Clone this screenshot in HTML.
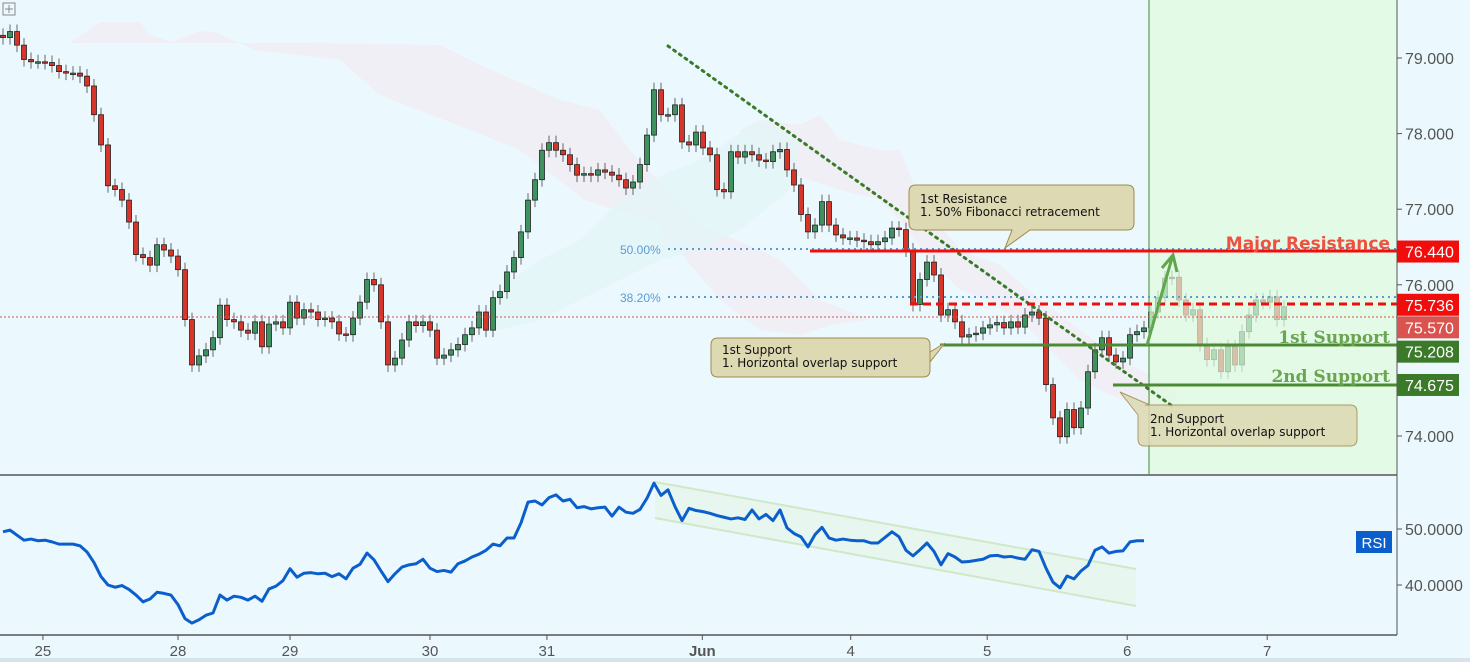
<!DOCTYPE html>
<html><head><meta charset="utf-8"><style>
body{margin:0;background:#ebf9fe;font-family:"Liberation Sans",sans-serif}
svg{display:block}
</style></head><body>
<svg id="c" width="1470" height="662" xmlns="http://www.w3.org/2000/svg">
<rect x="0" y="0" width="1470" height="662" fill="#ebf9fe"/>
<g id="cloud">
<polygon points="70,43 100,22 140,22 150,35 172,42 200,31 215,32 255,50 340,60 380,95 470,130 520,150 585,200 655,222 720,300 760,330 800,335 830,325 870,320 820,300 780,260 760,250 700,225 680,205 630,150 600,110 560,100 530,87 480,65 440,45 300,43 200,43 150,43 100,43" fill="#efedf4" opacity="0.9"/>
<polygon points="740,130 760,120 800,125 820,115 840,140 880,150 900,150 920,200 960,250 1000,265 1040,300 1080,330 1120,360 1160,380 1180,400 1150,410 1110,395 1080,380 1060,360 1030,330 990,300 960,290 930,260 900,220 880,200 840,190 810,180 780,170" fill="#efedf4" opacity="0.9"/>
<polygon points="480,320 510,280 540,260 580,240 620,200 650,180 700,160 760,120 800,140 790,190 740,230 700,250 660,260 620,280 580,300 540,320 500,330" fill="#e3f5f8" opacity="0.8"/>
</g>
<g id="candles"></g>
<rect x="1149" y="0" width="248" height="474" fill="#dffbdd" opacity="0.7"/>
<line x1="1149" y1="0" x2="1149" y2="474" stroke="#3c8a2e" stroke-width="1"/>
<g id="ann"></g>
<g id="rsi"></g>
<g id="axes"></g>
</svg>
<script>
const closes=[79.27,79.35,79.17,78.98,78.95,78.95,78.94,78.90,78.82,78.80,78.80,78.76,78.63,78.25,77.85,77.31,77.26,77.12,76.83,76.40,76.36,76.26,76.53,76.46,76.38,76.20,75.54,74.94,75.06,75.14,75.30,75.73,75.54,75.51,75.40,75.36,75.51,75.18,75.48,75.51,75.43,75.77,75.56,75.67,75.64,75.54,75.56,75.51,75.35,75.34,75.56,75.77,76.07,76.00,75.51,74.94,75.03,75.27,75.51,75.46,75.51,75.40,75.03,75.07,75.14,75.21,75.34,75.43,75.64,75.40,75.83,75.91,76.17,76.36,76.70,77.12,77.39,77.78,77.88,77.78,77.72,77.59,77.45,77.47,77.45,77.52,77.49,77.45,77.39,77.28,77.36,77.59,77.98,78.58,78.25,78.25,78.38,77.89,77.85,78.02,77.81,77.72,77.26,77.23,77.76,77.69,77.76,77.72,77.65,77.63,77.76,77.79,77.52,77.32,76.93,76.70,76.79,77.10,76.79,76.66,76.62,76.62,76.59,76.57,76.53,76.57,76.62,76.75,76.73,76.46,75.74,76.07,76.30,76.13,75.60,75.67,75.51,75.31,75.34,75.36,75.43,75.47,75.50,75.43,75.51,75.44,75.60,75.64,75.56,74.68,74.24,73.99,74.35,74.11,74.37,74.85,75.14,75.30,75.07,74.98,75.03,75.34,75.38,75.43,75.64,75.83,76.09,76.10,75.80,75.60,75.67,75.21,75.01,75.14,74.85,75.18,74.94,75.38,75.60,75.80,75.77,75.84,75.54,75.71];
const rsiValues=[49.5,49.8,48.9,48.0,48.2,47.9,48.0,47.7,47.3,47.3,47.3,47.0,45.9,44.0,41.5,40.0,39.6,39.9,39.2,38.2,37.0,37.5,38.7,38.5,38.2,36.5,34.0,33.2,33.8,34.6,35.0,38.2,37.3,38.0,37.8,37.3,38.0,37.1,39.3,39.8,40.8,42.9,41.4,42.1,42.2,42.0,42.1,41.5,42.0,41.1,43.0,43.7,45.7,44.5,42.5,40.6,42.0,43.2,43.6,43.8,44.6,43.0,42.4,42.6,42.3,43.8,44.3,45.0,45.5,46.2,47.3,47.0,48.4,48.4,51.1,54.8,55.0,54.3,55.6,56.1,55.0,55.3,53.8,54.0,53.6,53.8,53.9,52.3,53.9,53.0,52.8,53.5,55.5,58.2,56.0,57.0,54.0,51.5,53.7,53.3,53.1,52.8,52.4,52.1,51.8,52.0,51.7,53.4,51.8,52.6,51.5,53.4,50.2,49.2,48.6,46.8,49.0,50.3,48.4,48.0,48.2,48.0,47.9,47.9,47.5,47.5,48.5,49.5,48.6,46.2,45.2,46.3,47.5,46.0,43.6,45.6,45.0,44.1,44.2,44.4,44.6,45.2,45.3,45.0,45.1,44.8,44.6,46.3,46.0,43.0,40.5,39.5,41.6,41.1,42.5,43.5,46.2,46.8,45.7,46.0,46.1,47.7,47.9,47.9];
const priceTicks=[79,78,77,76,74];
const rsiTicks=[50,40];
const dateLabels=["25","28","29","30","31","Jun","4","5","6","7"];
const dateIdx=[5.7,25,41,61,77.7,99.9,121.1,140.6,160.6,180.6];
const levels=[{v:76.44,label:"76.440",col:"#f20d0d"},{v:75.736,label:"75.736",col:"#f20d0d"},{v:75.57,label:"75.570",col:"#d9534f"},{v:75.208,label:"75.208",col:"#3b7a28"},{v:74.675,label:"74.675",col:"#3b7a28"}];
const tagShift=[0,0,10,7,0];
const X=i=>3+7*i, Y=p=>58+(79-p)*75.6, RY=v=>529-(v-50)*5.6;
const NS="http://www.w3.org/2000/svg";
function mk(t,a,p){const e=document.createElementNS(NS,t);for(const k in a)e.setAttribute(k,a[k]);p.appendChild(e);return e;}
const cg=document.getElementById('candles');
closes.forEach((c,i)=>{const o=i?closes[i-1]:c+0.03;const up=c>=o;const x=X(i);
 const top=Y(Math.max(o,c)),bot=Y(Math.min(o,c));
 const w=mk('line',{x1:x,x2:x,y1:top-7,y2:bot+7,stroke:'#666','stroke-width':1},cg);
 
 const r=mk('rect',{x:x-2.5,y:top,width:5,height:Math.max(1.5,bot-top),fill:up?'#3f9160':'#d8352a',stroke:'#222','stroke-width':0.8},cg);
 });
const an=document.getElementById('ann');
an.innerHTML=`
<line x1="0" y1="317" x2="1397" y2="317" stroke="#d9534f" stroke-dasharray="2,2" stroke-width="1"/>
<line x1="668" y1="249" x2="1397" y2="249" stroke="#5b9bd5" stroke-dasharray="2,4" stroke-width="2"/>
<line x1="668" y1="297" x2="1397" y2="297" stroke="#5b9bd5" stroke-dasharray="2,4" stroke-width="2"/>
<text x="620" y="254" font-size="12" fill="#5b9bd5">50.00%</text>
<text x="620" y="302" font-size="12" fill="#5b9bd5">38.20%</text>
<line x1="668" y1="46" x2="1175" y2="408" stroke="#3a7a28" stroke-dasharray="2,5" stroke-width="3" stroke-linecap="round"/>
<line x1="810" y1="251" x2="1397" y2="251" stroke="#f20d0d" stroke-width="3"/>
<line x1="910" y1="304" x2="1397" y2="304" stroke="#f20d0d" stroke-dasharray="8,5" stroke-width="3"/>
<line x1="940" y1="345" x2="1397" y2="345" stroke="#4e8a36" stroke-width="3"/>
<line x1="1113" y1="385" x2="1397" y2="385" stroke="#4e8a36" stroke-width="3"/>
<text x="1390" y="249" font-size="17" font-weight="bold" fill="#ef5040" text-anchor="end" font-family="DejaVu Sans">Major Resistance</text>
<text x="1390" y="343" font-size="17" font-weight="bold" fill="#6aa64f" text-anchor="end" font-family="DejaVu Serif">1st Support</text>
<text x="1390" y="382" font-size="17" font-weight="bold" fill="#6aa64f" text-anchor="end" font-family="DejaVu Serif">2nd Support</text>
<path d="M1147,345 L1172,258 M1162,268 L1173,255 L1177,272" stroke="#5fa74a" stroke-width="3" fill="none"/>
<g>
<path d="M916,185 H1127 Q1134,185 1134,192 V223 Q1134,230 1127,230 H1030 L1005,248 L1012,230 H916 Q909,230 909,223 V192 Q909,185 916,185Z" fill="#ddd9b3" stroke="#a08a4c" stroke-width="1"/>
<text x="920" y="203" font-size="12" fill="#111" font-family="DejaVu Sans">1st Resistance</text>
<text x="920" y="216" font-size="12" fill="#111" font-family="DejaVu Sans">1. 50% Fibonacci retracement</text></g>
<g>
<path d="M718,338 H923 Q930,338 930,345 V370 Q930,377 923,377 H718 Q711,377 711,370 V345 Q711,338 718,338Z M930,352 L945,343 L930,362Z" fill="#ddd9b3" stroke="#a08a4c" stroke-width="1"/>
<text x="722" y="354" font-size="12" fill="#111" font-family="DejaVu Sans">1st Support</text>
<text x="722" y="367" font-size="12" fill="#111" font-family="DejaVu Sans">1. Horizontal overlap support</text></g>
<g>
<path d="M1145,405 H1350 Q1357,405 1357,412 V439 Q1357,446 1350,446 H1145 Q1138,446 1138,439 V415 L1120,392 L1150,405Z" fill="#ddd9b3" stroke="#a08a4c" stroke-width="1" opacity="0.85"/>
<text x="1150" y="423" font-size="12" fill="#111" font-family="DejaVu Sans">2nd Support</text>
<text x="1150" y="436" font-size="12" fill="#111" font-family="DejaVu Sans">1. Horizontal overlap support</text></g>
<rect x="3" y="3" width="12" height="12" fill="none" stroke="#888"/>
<path d="M9,5V13M5,9H13" stroke="#888"/>`;
const rg=document.getElementById('rsi');
mk('polygon',{points:'655,482 1136,569 1136,606 655,518',fill:'#e6f7ea',opacity:0.7},rg);
mk('line',{x1:655,y1:482,x2:1136,y2:569,stroke:'#cfe8c8','stroke-width':2},rg);
mk('line',{x1:655,y1:518,x2:1136,y2:606,stroke:'#cfe8c8','stroke-width':2},rg);
const pl=mk('polyline',{points:rsiValues.map((v,i)=>X(i)+','+RY(v)).join(' '),fill:'none',stroke:'#0b5fcc','stroke-width':3,'stroke-linejoin':'round'},rg);

const ax=document.getElementById('axes');
mk('line',{x1:0,y1:475,x2:1397,y2:475,stroke:'#555','stroke-width':1.5},ax);
mk('line',{x1:0,y1:635,x2:1397,y2:635,stroke:'#555','stroke-width':1.5},ax);
mk('line',{x1:1397,y1:0,x2:1397,y2:635,stroke:'#555','stroke-width':1},ax);
mk('rect',{x:0,y:658,width:1470,height:4,fill:'#d6e4ea'},ax);
priceTicks.forEach(p=>{const y=Y(p);mk('line',{x1:1397,x2:1402,y1:y,y2:y,stroke:'#555'},ax);
 const t=mk('text',{x:1405,y:y+6,'font-size':16,fill:'#555'},ax);t.textContent=p.toFixed(3);
 });
levels.forEach((l,k)=>{const y=Y(l.v)+tagShift[k];const r=mk('rect',{x:1397,y:y-11,width:62,height:22,fill:l.col},ax);
 
 const t=mk('text',{x:1405,y:y+6,'font-size':16,fill:'#fff'},ax);t.textContent=l.label;
 });
rsiTicks.forEach(v=>{const y=RY(v);mk('line',{x1:1397,x2:1402,y1:y,y2:y,stroke:'#555'},ax);
 const t=mk('text',{x:1405,y:y+6,'font-size':16,fill:'#555'},ax);t.textContent=v.toFixed(4);
 });
const rb=mk('rect',{x:1356,y:531,width:36,height:22,fill:'#0b5fcc'},ax);

const rt=mk('text',{x:1374,y:548,'font-size':15,fill:'#fff','text-anchor':'middle'},ax);rt.textContent='RSI';

dateLabels.forEach((d,k)=>{const x=X(dateIdx[k]);mk('line',{x1:x,x2:x,y1:635,y2:640,stroke:'#555'},ax);
 const t=mk('text',{x:x,y:656,'font-size':15,fill:'#555','text-anchor':'middle','font-weight':d==='Jun'?'bold':'normal'},ax);t.textContent=d;
 });
</script>
</body></html>
